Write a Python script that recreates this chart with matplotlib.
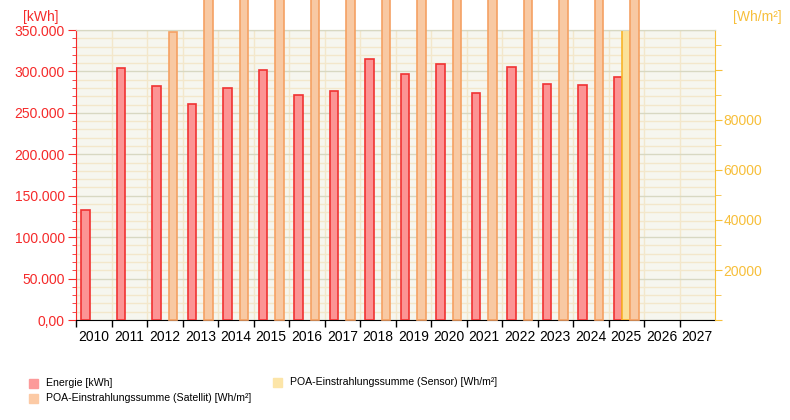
import matplotlib.pyplot as plt
from matplotlib.patches import Rectangle
from matplotlib.ticker import MultipleLocator, FixedLocator, FuncFormatter
import numpy as np

plt.rcParams['font.family'] = ['Liberation Sans', 'DejaVu Sans']

years = [str(y) for y in range(2010, 2028)]
energy_years = list(range(2010, 2026))
energy_kwh = [132400, 303800, 282000, 260300, 279600, 301300, 271300, 276000,
              314600, 296500, 308600, 273600, 305000, 284400, 283200, 292900]
sat_years = list(range(2012, 2026))
sat_whm2 = [115000, 142000, 140000, 143000, 139000, 141000, 145000, 142000,
            143000, 138000, 144000, 141000, 142000, 140000]
sensor_years = [2025]
sensor_whm2 = [120000]

RED = '#f52a2a'
GOLD = '#f7bf3a'
BG = '#f6f6ef'

W, H = 790, 420
fig = plt.figure(figsize=(7.9, 4.2), dpi=100)
ax = fig.add_axes([76 / W, 1 - 320 / H, 639 / W, 290 / H])
ax.set_facecolor(BG)
ax2 = ax.twinx()

bw = 0.235
xe = [y - 2010 - bw for y in energy_years]
xs = [y - 2010 + bw for y in sat_years]
xn = [y - 2010 for y in sensor_years]

ax.bar(xe, energy_kwh, width=bw, color='#fc9494', edgecolor='#f03232', lw=1.2, zorder=3)
ax2.bar(xs, sat_whm2, width=bw, color='#f8c9a3', edgecolor='#f5a163', lw=1.2,
        zorder=3, clip_on=False)
ax2.bar(xn, sensor_whm2, width=bw, color='#fbe19a', edgecolor='#f8b42a', lw=1.2, zorder=2)

ax.set_xlim(-0.5, len(years) - 0.5)
ax.set_ylim(0, 350000)
ax2.set_ylim(0, 116000)

# x axis: ticks at category boundaries, labels at centers
ax.xaxis.set_major_locator(FixedLocator(np.arange(len(years)) - 0.5))
ax.xaxis.set_major_formatter(FuncFormatter(lambda v, p: ''))
ax.xaxis.set_minor_locator(FixedLocator(np.arange(len(years))))
ax.set_xticklabels(years, minor=True)
ax.tick_params(axis='x', which='major', length=5, color='black', width=1)
ax.tick_params(axis='x', which='minor', length=0, labelsize=10, pad=7)

# left axis
ax.yaxis.set_major_locator(MultipleLocator(50000))
ax.yaxis.set_minor_locator(MultipleLocator(10000))
ax.yaxis.set_major_formatter(FuncFormatter(
    lambda v, p: '0,00' if v == 0 else f'{int(v):,}'.replace(',', '.')))
ax.tick_params(axis='y', which='major', length=6, color=RED, labelcolor=RED,
               labelsize=10, pad=2)
ax.tick_params(axis='y', which='minor', length=3, color=RED)

# right axis
ax2.yaxis.set_major_locator(MultipleLocator(20000))
ax2.yaxis.set_minor_locator(MultipleLocator(10000))
ax2.yaxis.set_major_formatter(FuncFormatter(
    lambda v, p: f'{int(v)}' if 0 < v < 100000 else ''))
ax2.tick_params(axis='y', which='major', length=5, color=GOLD, labelcolor=GOLD,
                labelsize=10, pad=1)
ax2.tick_params(axis='y', which='minor', length=4, color=GOLD)

# grid
ax.grid(axis='y', which='major', color='#d8d8c2', lw=1, zorder=1)
ax.grid(axis='y', which='minor', color='#f3e7cb', lw=1, zorder=0)
ax.grid(axis='x', which='major', color='#f3e7cb', lw=1, zorder=0)
ax.set_axisbelow(True)

ax.spines['left'].set_color(RED)
ax.spines['bottom'].set_color('black')
ax.spines['top'].set_color('#d8d8c2')
ax.spines['right'].set_visible(False)
ax2.spines['right'].set_color(GOLD)
ax2.spines['left'].set_visible(False)
ax2.spines['top'].set_color('#d8d8c2')
ax2.spines['bottom'].set_visible(False)

fig.text(41 / W, 1 - 17 / H, '[kWh]', color=RED, fontsize=10, ha='center', va='center')
fig.text(757 / W, 1 - 17 / H, '[Wh/m²]', color=GOLD, fontsize=10, ha='center', va='center')

# legend
legend_items = [
    (29, 383, '#fc9a9a', 'Energie [kWh]'),
    (29, 398, '#fccaa5', 'POA-Einstrahlungssumme (Satellit) [Wh/m²]'),
    (273, 382, '#fce5a8', 'POA-Einstrahlungssumme (Sensor) [Wh/m²]'),
]
for lx, ly, col, txt in legend_items:
    fig.add_artist(Rectangle((lx / W, 1 - (ly + 5) / H), 9 / W, 9 / H,
                             transform=fig.transFigure, color=col))
    fig.text((lx + 17) / W, 1 - ly / H, txt, fontsize=7.6, va='center')

fig.savefig('out.png', dpi=100)
